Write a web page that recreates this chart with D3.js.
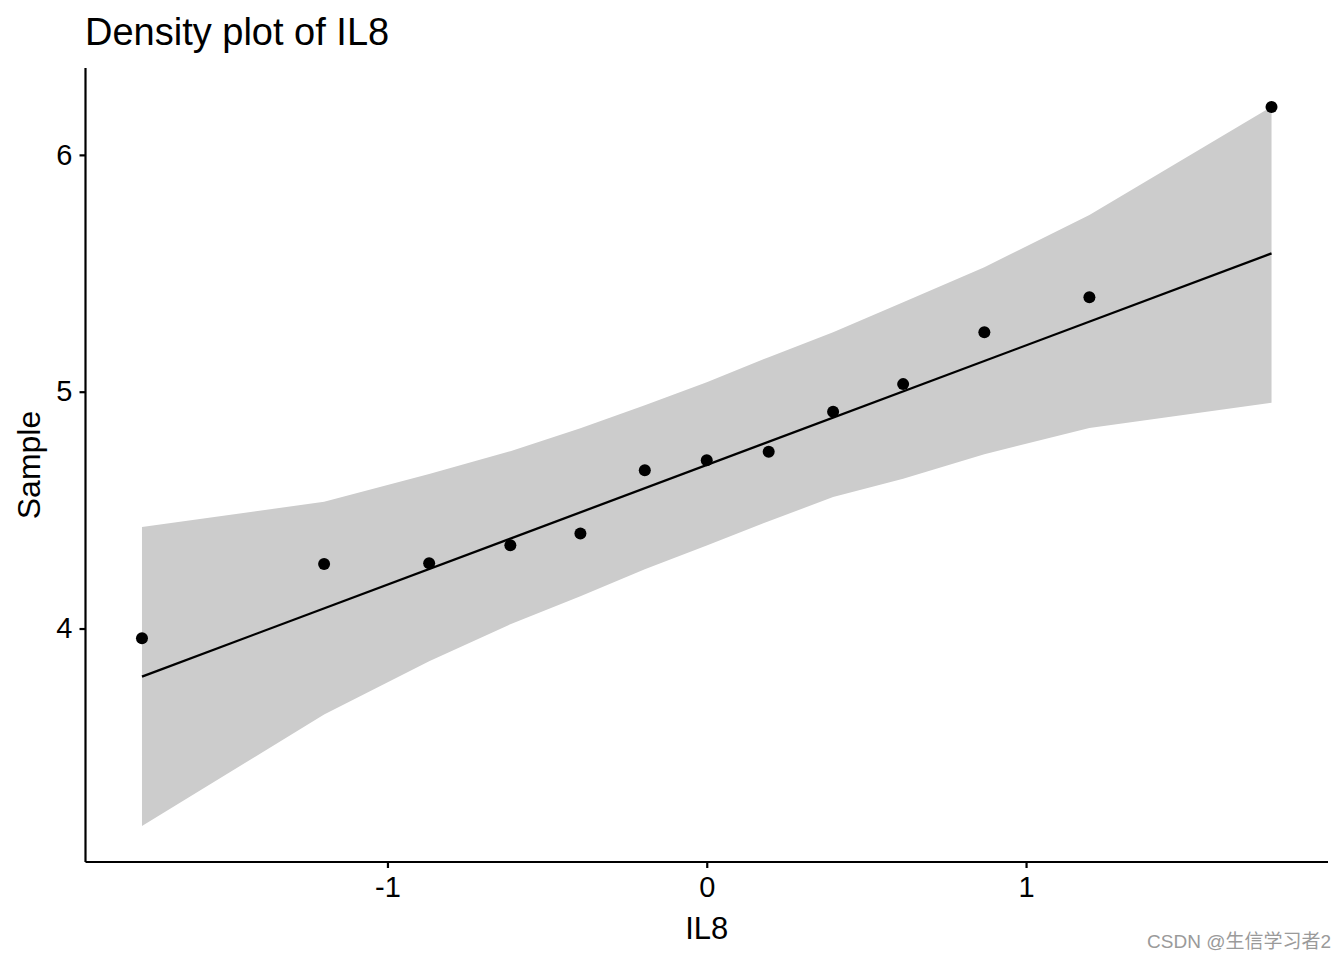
<!DOCTYPE html>
<html>
<head>
<meta charset="utf-8">
<script src="https://cdn.jsdelivr.net/npm/d3@7"></script>
<style>
  html, body { margin: 0; padding: 0; background: #fff; }
  svg { display: block; font-family: "Liberation Sans", Arial, Helvetica, sans-serif; }
</style>
</head>
<body>
<svg id="chart" width="1344" height="960"></svg>
<script>
// Theoretical quantiles (x) and sample values (y)
const theoretical = [-1.7688, -1.1984, -0.8694, -0.6151, -0.3957, -0.1940, 0, 0.1940, 0.3957, 0.6151, 0.8694, 1.1984, 1.7688];
const sample      = [3.959, 4.272, 4.276, 4.352, 4.401, 4.668, 4.711, 4.746, 4.915, 5.032, 5.251, 5.399, 6.202];
// Confidence band
const bandUpper   = [4.429, 4.535, 4.652, 4.749, 4.846, 4.943, 5.040, 5.146, 5.251, 5.378, 5.526, 5.746, 6.203];
const bandLower   = [3.166, 3.637, 3.862, 4.018, 4.136, 4.250, 4.351, 4.453, 4.555, 4.632, 4.736, 4.847, 4.953];
// Reference line endpoints
const lineX = [-1.7688, 1.7688];
const lineY = [3.797, 5.584];
// Ticks
const xTicks = [-1, 0, 1];
const yTicks = [4, 5, 6];

const titleText = "Density plot of IL8";
const xLabel = "IL8";
const yLabel = "Sample";
const watermark = "CSDN @生信学习者2";

(function () {
const svg = d3.select("#chart");
const mLeft = 85.5, mRight = 1328, mTop = 68, mBottom = 862;

const xExt = d3.extent(theoretical);
const xPad = (xExt[1] - xExt[0]) * 0.05;
const yAll = sample.concat(bandUpper, bandLower);
const yExt = d3.extent(yAll);
const yPad = (yExt[1] - yExt[0]) * 0.05;

const x = d3.scaleLinear().domain([xExt[0] - xPad, xExt[1] + xPad]).range([mLeft, mRight]);
const y = d3.scaleLinear().domain([yExt[0] - yPad, yExt[1] + yPad + 0.012]).range([mBottom, mTop]);

const bandData = theoretical.map((t, i) => ({ t, lo: bandLower[i], hi: bandUpper[i] }));

svg.append("path")
  .datum(bandData)
  .attr("fill", "#cccccc")
  .attr("d", d3.area().x(d => x(d.t)).y0(d => y(d.lo)).y1(d => y(d.hi)));

svg.append("path")
  .datum(lineX.map((v, i) => [v, lineY[i]]))
  .attr("fill", "none")
  .attr("stroke", "#000")
  .attr("stroke-width", 2.3)
  .attr("d", d3.line().x(d => x(d[0])).y(d => y(d[1])));

svg.append("g")
  .selectAll("circle")
  .data(theoretical.map((t, i) => ({ t, s: sample[i] })))
  .join("circle")
  .attr("cx", d => x(d.t))
  .attr("cy", d => y(d.s))
  .attr("r", 6)
  .attr("fill", "#000");

const fmt = d => String(d);

// Axes
const xAxis = svg.append("g")
  .attr("transform", `translate(0,${mBottom})`)
  .call(d3.axisBottom(x).tickValues(xTicks).tickFormat(fmt).tickSize(6).tickPadding(8));
const yAxis = svg.append("g")
  .attr("transform", `translate(${mLeft},0)`)
  .call(d3.axisLeft(y).tickValues(yTicks).tickFormat(fmt).tickSize(6).tickPadding(7));

[xAxis, yAxis].forEach(g => {
  g.select(".domain").attr("stroke", "#000").attr("stroke-width", 2.2);
  g.selectAll(".tick line").attr("stroke", "#000").attr("stroke-width", 2.2);
  g.selectAll(".tick text").attr("fill", "#000").style("font-size", "29px")
    .style("font-family", "'Liberation Sans', Arial, sans-serif");
});
xAxis.select(".domain").attr("d", `M${mLeft},0H${mRight}`);
yAxis.select(".domain").attr("d", `M0,${mTop}V${mBottom}`);

// Title
svg.append("text")
  .attr("x", 85).attr("y", 45)
  .attr("fill", "#000")
  .style("font-size", "38px")
  .text(titleText);

// Axis titles
svg.append("text")
  .attr("x", (mLeft + mRight) / 2).attr("y", 939)
  .attr("text-anchor", "middle")
  .attr("fill", "#000")
  .style("font-size", "31px")
  .text(xLabel);

svg.append("text")
  .attr("transform", `translate(40,${(mTop + mBottom) / 2}) rotate(-90)`)
  .attr("text-anchor", "middle")
  .attr("fill", "#000")
  .style("font-size", "32px")
  .text(yLabel);

// Watermark
svg.append("text")
  .attr("x", 1331).attr("y", 948)
  .attr("text-anchor", "end")
  .attr("fill", "#9a9a9a")
  .style("font-size", "19px")
  .style("font-family", "'Liberation Sans', 'Noto Sans CJK SC', sans-serif")
  .text(watermark);
})();
</script>
</body>
</html>
